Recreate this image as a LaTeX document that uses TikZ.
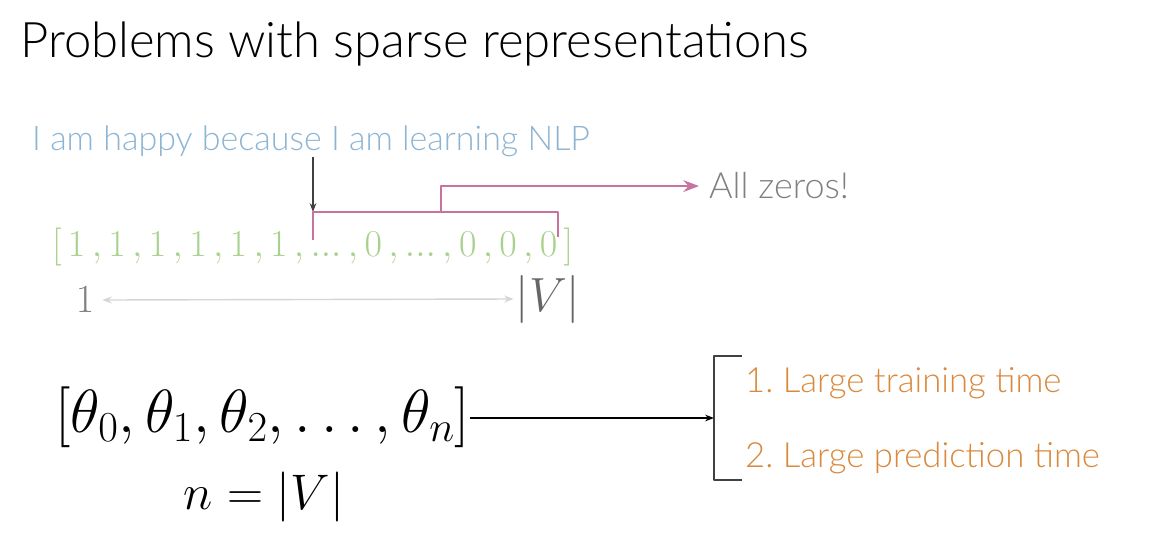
\RequirePackage{fix-cm}
\documentclass[tikz,border=0pt]{standalone}
\usepackage{fontspec}
\setmainfont{Lato}[UprightFont=* Light]
\usetikzlibrary{arrows.meta}
\definecolor{sent}{HTML}{8DB4D3}
\definecolor{vecg}{HTML}{A9D18E}
\definecolor{zpink}{HTML}{C8739F}
\definecolor{prob}{HTML}{D9893C}
\definecolor{ink}{HTML}{404040}
\definecolor{soft}{HTML}{D5D5D5}
\tikzset{fig/.style={line join=round,>=Stealth},
 txt/.style={inner sep=0pt,anchor=base west}}
\frenchspacing
\begin{document}
\begin{tikzpicture}[fig,x=1pt,y=-1pt]
 \useasboundingbox (0,0) rectangle (1172,558);
 \node[txt,font=\fontsize{49}{56}\selectfont](title)at(20,57){Problems with sparse representations};
 \node[txt,text=sent,font=\fontsize{34}{40}\selectfont](sent)at(32,150){I am happy because I am learning NLP};
 \node[inner sep=0pt,anchor=west,text=vecg,font=\fontsize{38}{44}\selectfont](vec)at(52,247){$[\,1\,,1\,,1\,,1\,,1\,,1\,,...\,,0\,,...\,,0\,,0\,,0\,]$};
 \node[inner sep=2pt,text=gray,font=\fontsize{40}{44}\selectfont](one)at(85,300){$1$};
 \node[inner sep=2pt,text=ink!80,font=\fontsize{48}{54}\selectfont](vb)at(548,299){$|V|$};
 \node[txt,text=gray,font=\fontsize{36}{40}\selectfont](zeros)at(709,198){All zeros!};
 % bracket over the zeros
 \coordinate(pl)at(313,240);\coordinate(ptl)at(313,212);
 \coordinate(ptr)at(558,212);\coordinate(pr)at(558,237);\coordinate(pm)at(441,212);
 \draw[ink,line width=1.3pt,->](sent.south -| pl)--(ptl);
 \draw[zpink,line width=2.8pt](pl)--(ptl)--(ptr)--(pr);
 \draw[zpink,line width=2.8pt,->](pm)|-([xshift=-10pt,yshift=-1pt]zeros.west);
 \draw[soft,line width=1.4pt,<->]([xshift=6pt]one.east)--(vb.west);
 % parameters
 \node[inner sep=0pt,anchor=west,font=\fontsize{61}{68}\selectfont](theta)at(55,417){$[\theta_0,\theta_1,\theta_2,\ldots,\theta_n]$};
 \node[font=\fontsize{50}{56}\selectfont](nv)at(264,497){$n=|V|$};
 \coordinate(bt)at(742,356);\coordinate(bb)at(742,480);\coordinate(bm)at(714,418);
 \draw[ink,line width=2.6pt](bt)-|(bm)|-(bb);
 \draw[black,line width=1.3pt,->](theta.east |- bm)--(bm);
 \node[txt,text=prob,font=\fontsize{34.7}{40}\selectfont](p1)at(745,392){1. Large training time};
 \node[txt,text=prob,font=\fontsize{34.7}{40}\selectfont](p2)at(745,467){2. Large prediction time};
\end{tikzpicture}
\end{document}
